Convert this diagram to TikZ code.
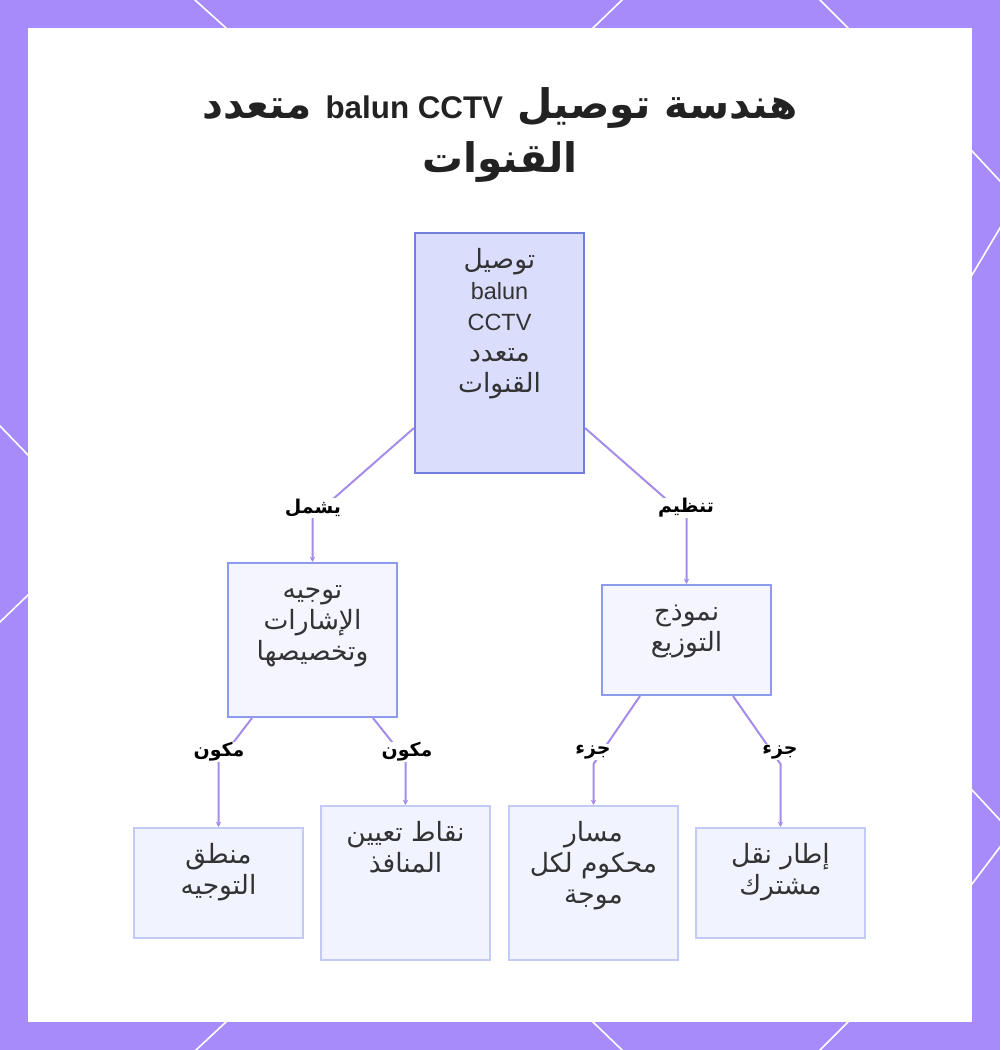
\documentclass[tikz,border=0pt]{standalone}
\usepackage{fontspec}
\setmainfont{Liberation Sans}
\newfontfamily\arabicfont[Script=Arabic,Scale=1.13]{DejaVu Sans}
\newfontfamily\arabictitle[Script=Arabic,Scale=1.3]{DejaVu Sans}
\TeXXeTstate=1
\usetikzlibrary{arrows.meta,calc}
\newdimen\pxu \pxu=0.75pt
\newcommand\artx[1]{{\arabicfont\beginR #1\endR}}
\newcommand\arttl[1]{{\arabictitle\beginR #1\endR}}
\newcommand\boxtxt[3]{\parbox[c][#2\pxu][t]{#1\pxu}{\centering\fontsize{17.6}{23.25}\selectfont\rule{0pt}{35\pxu}#3\par}}
\definecolor{bgpurple}{RGB}{167,139,250}
\definecolor{rootfill}{RGB}{218,221,252}
\definecolor{rootborder}{RGB}{112,128,220}
\definecolor{midfill}{RGB}{244,245,254}
\definecolor{midborder}{RGB}{140,155,235}
\definecolor{leaffill}{RGB}{241,243,254}
\definecolor{leafborder}{RGB}{195,202,245}
\definecolor{edgecol}{RGB}{165,140,235}
\definecolor{titlecol}{RGB}{34,34,34}
\definecolor{txtcol}{RGB}{51,51,51}
\tikzset{
  bgline/.style={white, line width=1.2pt, shorten >=-4pt, shorten <=-4pt},
  rootbox/.style={draw=rootborder, fill=rootfill, line width=1.5pt, inner sep=0pt, text=txtcol},
  midbox/.style={draw=midborder, fill=midfill, line width=1.5pt, inner sep=0pt, text=txtcol},
  leafbox/.style={draw=leafborder, fill=leaffill, line width=1.5pt, inner sep=0pt, text=txtcol},
  conn/.style={draw=edgecol, line width=1.5pt, -{Stealth[length=4pt,width=4pt]}},
  lbl/.style={fill=white, inner sep=0.5pt, font=\fontsize{12.6}{16}\selectfont\bfseries, text=black},
  titlestyle/.style={align=center, text=titlecol, font=\fontsize{23.5}{40}\selectfont\bfseries}
}
\begin{document}
\begin{tikzpicture}[x=0.75pt,y=-0.75pt]
\useasboundingbox (0,0) rectangle (1000,1050);
\fill[bgpurple] (0,0) rectangle (1000,1050);
% background white lines in the frame
\draw[bgline] (195,0) -- (226,28);
\draw[bgline] (622,0) -- (593,28);
\draw[bgline] (820,0) -- (848,28);
\draw[bgline] (196,1050) -- (226,1022);
\draw[bgline] (622,1050) -- (593,1022);
\draw[bgline] (820,1050) -- (848,1022);
\draw[bgline] (1000,181) -- (972,151);
\draw[bgline] (1000,228) -- (972,275);
\draw[bgline] (1000,820) -- (972,790);
\draw[bgline] (1000,847) -- (972,884);
\draw[bgline] (0,426) -- (28,455);
\draw[bgline] (0,622) -- (28,595);
% panel
\fill[white] (28,28) rectangle (972,1022);
% title
\node[titlestyle] (title) at (500,135) {\arttl{هندسة توصيل \beginL{\rmfamily balun CCTV}\endL{} متعدد}\\ \arttl{القنوات}};
% nodes
\node[rootbox] (root) at (499.5,353) {\boxtxt{169}{240}{\artx{توصيل}\\ balun\\ CCTV\\ \artx{متعدد}\\ \artx{القنوات}}};
\node[midbox] (lm) at (312.5,640) {\boxtxt{169}{154}{\artx{توجيه}\\ \artx{الإشارات}\\ \artx{وتخصيصها}}};
\node[midbox] (rm) at (686.5,640) {\boxtxt{169}{110}{\artx{نموذج}\\ \artx{التوزيع}}};
\node[leafbox] (b1) at (218.5,883) {\boxtxt{169}{110}{\artx{منطق}\\ \artx{التوجيه}}};
\node[leafbox] (b2) at (405.5,883) {\boxtxt{169}{154}{\artx{نقاط تعيين}\\ \artx{المنافذ}}};
\node[leafbox] (b3) at (593.5,883) {\boxtxt{169}{154}{\artx{مسار}\\ \artx{محكوم لكل}\\ \artx{موجة}}};
\node[leafbox] (b4) at (780.5,883) {\boxtxt{169}{110}{\artx{إطار نقل}\\ \artx{مشترك}}};
% connectors
\draw[conn] ($(root.west)+(0,75)$) -- ($(lm.north)+(0,-45)$) -- (lm.north);
\draw[conn] ($(root.east)+(0,75)$) -- ($(rm.north)+(0,-67)$) -- (rm.north);
\draw[conn] ($(lm.south)+(-60.5,0)$) -- ($(b1.north)+(0,-65)$) -- (b1.north);
\draw[conn] ($(lm.south)+(60.5,0)$) -- ($(b2.north)+(0,-46)$) -- (b2.north);
\draw[conn] ($(rm.south)+(-46.5,0)$) -- ($(b3.north)+(0,-41)$) -- (b3.north);
\draw[conn] ($(rm.south)+(46.5,0)$) -- ($(b4.north)+(0,-63)$) -- (b4.north);
% labels
\node[lbl] (l1) at (313,508) {\artx{يشمل}};
\node[lbl] (l2) at (686,508) {\artx{تنظيم}};
\node[lbl] (l3) at (219,752) {\artx{مكون}};
\node[lbl] (l4) at (407,752) {\artx{مكون}};
\node[lbl] (l5) at (593,752) {\artx{جزء}};
\node[lbl] (l6) at (780,752) {\artx{جزء}};
\end{tikzpicture}
\end{document}
